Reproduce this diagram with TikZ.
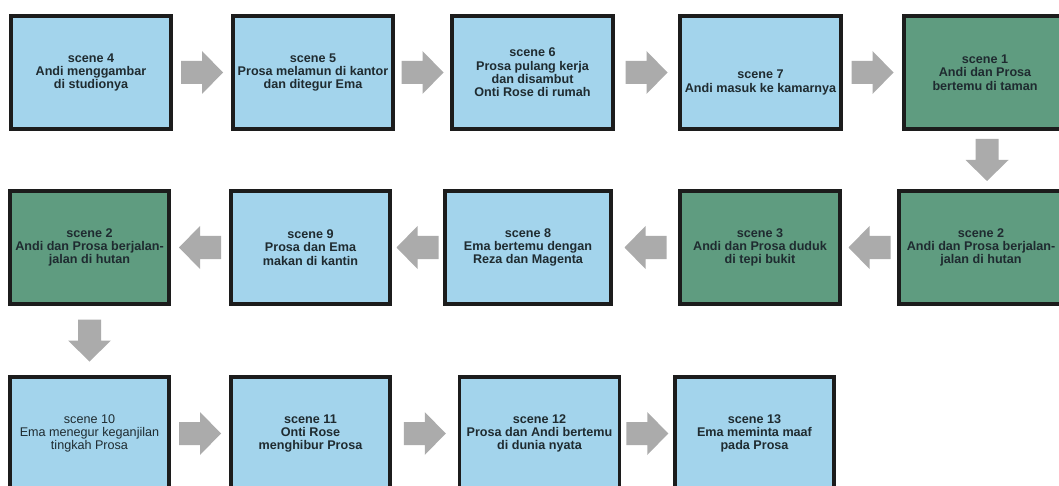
\documentclass[tikz,border=0pt]{standalone}
\usepackage{fontspec}
\setmainfont{Liberation Sans}
\usetikzlibrary{calc}
\definecolor{boxblue}{HTML}{A3D4EC}
\definecolor{boxgreen}{HTML}{5F9C80}
\definecolor{boxline}{HTML}{1C1C1C}
\definecolor{arrowgray}{HTML}{ABABAB}
\definecolor{txtcol}{HTML}{1F2B30}
\tikzset{
  scenefont/.style={font=\fontsize{12.6}{13.4}\selectfont\bfseries},
  scenebox/.style={draw=boxline, line width=3.8pt, inner sep=0pt, align=center,
    text=txtcol, scenefont, minimum height=113pt},
  bluebox/.style={scenebox, fill=boxblue},
  greenbox/.style={scenebox, fill=boxgreen},
  blockarrow/.pic={\fill[arrowgray] (-21,-11.5) -- (0,-11.5) -- (0,-21.5) -- (21,0)
     -- (0,21.5) -- (0,11.5) -- (-21,11.5) -- cycle;}
}
\begin{document}
\begin{tikzpicture}[x=1pt,y=-1pt]
\useasboundingbox (0,0) rectangle (1059,486);
\clip (0,0) rectangle (1059,486);
% row 1
\node[bluebox, minimum width=160pt] (b4) at (91,72.5) {scene 4\\Andi menggambar\\di studionya};
\node[bluebox, minimum width=160pt] (b5) at (313,72.5) {scene 5\\Prosa melamun di kantor\\dan ditegur Ema};
\node[bluebox, minimum width=161pt] (b6) at (532.5,72.5) {scene 6\\Prosa pulang kerja\\dan disambut\\Onti Rose di rumah};
\node[bluebox, minimum width=161pt,
  label={[text=txtcol, scenefont, align=center, yshift=-10pt]center:{scene 7\\Andi masuk ke kamarnya}}] (b7) at (760.5,72.5) {};
\node[greenbox, minimum width=162pt] (b1) at (985,72.5) {scene 1\\Andi dan Prosa\\bertemu di taman};
% row 2
\node[greenbox, minimum width=164pt] (r2) at (981,247.5) {scene 2\\Andi dan Prosa berjalan-\\jalan di hutan};
\node[greenbox, minimum width=160pt] (r3) at (760,247.5) {scene 3\\Andi dan Prosa duduk\\di tepi bukit};
\node[bluebox, minimum width=166pt] (r8) at (528,247.5) {scene 8\\Ema bertemu dengan\\Reza dan Magenta};
\node[bluebox, minimum width=159pt] (r9) at (310.5,247.5) {scene 9\\Prosa dan Ema\\makan di kantin};
\node[greenbox, minimum width=159pt] (r2b) at (89.5,247.5) {scene 2\\Andi dan Prosa berjalan-\\jalan di hutan};
% row 3
\node[bluebox, minimum width=159pt, font=\fontsize{12.6}{13.4}\selectfont\mdseries] (s10) at (89.5,433.5) {scene 10\\Ema menegur keganjilan\\tingkah Prosa};
\node[bluebox, minimum width=159pt] (s11) at (310.5,433.5) {scene 11\\Onti Rose\\menghibur Prosa};
\node[bluebox, minimum width=160pt] (s12) at (539.5,433.5) {scene 12\\Prosa dan Andi bertemu\\di dunia nyata};
\node[bluebox, minimum width=159pt] (s13) at (754.5,433.5) {scene 13\\Ema meminta maaf\\pada Prosa};
% arrows row 1
\pic at ($(b4.east)!0.5!(b5.west)$) {blockarrow};
\pic at ($(b5.east)!0.5!(b6.west)$) {blockarrow};
\pic at ($(b6.east)!0.5!(b7.west)$) {blockarrow};
\pic at ($(b7.east)!0.5!(b1.west)$) {blockarrow};
\pic[rotate=-90] at ($($(b1.south)!0.5!(r2.north)$)+(4,0)$) {blockarrow};
% arrows row 2
\pic[rotate=180] at ($(r2.west)!0.5!(r3.east)$) {blockarrow};
\pic[rotate=180] at ($(r3.west)!0.5!(r8.east)$) {blockarrow};
\pic[rotate=180] at ($(r8.west)!0.5!(r9.east)$) {blockarrow};
\pic[rotate=180] at ($(r9.west)!0.5!(r2b.east)$) {blockarrow};
\pic[rotate=-90] at ($(r2b.south)!0.5!(s10.north)$) {blockarrow};
% arrows row 3
\pic at ($(s10.east)!0.5!(s11.west)$) {blockarrow};
\pic at ($(s11.east)!0.5!(s12.west)$) {blockarrow};
\pic at ($(s12.east)!0.5!(s13.west)$) {blockarrow};
\end{tikzpicture}
\end{document}
